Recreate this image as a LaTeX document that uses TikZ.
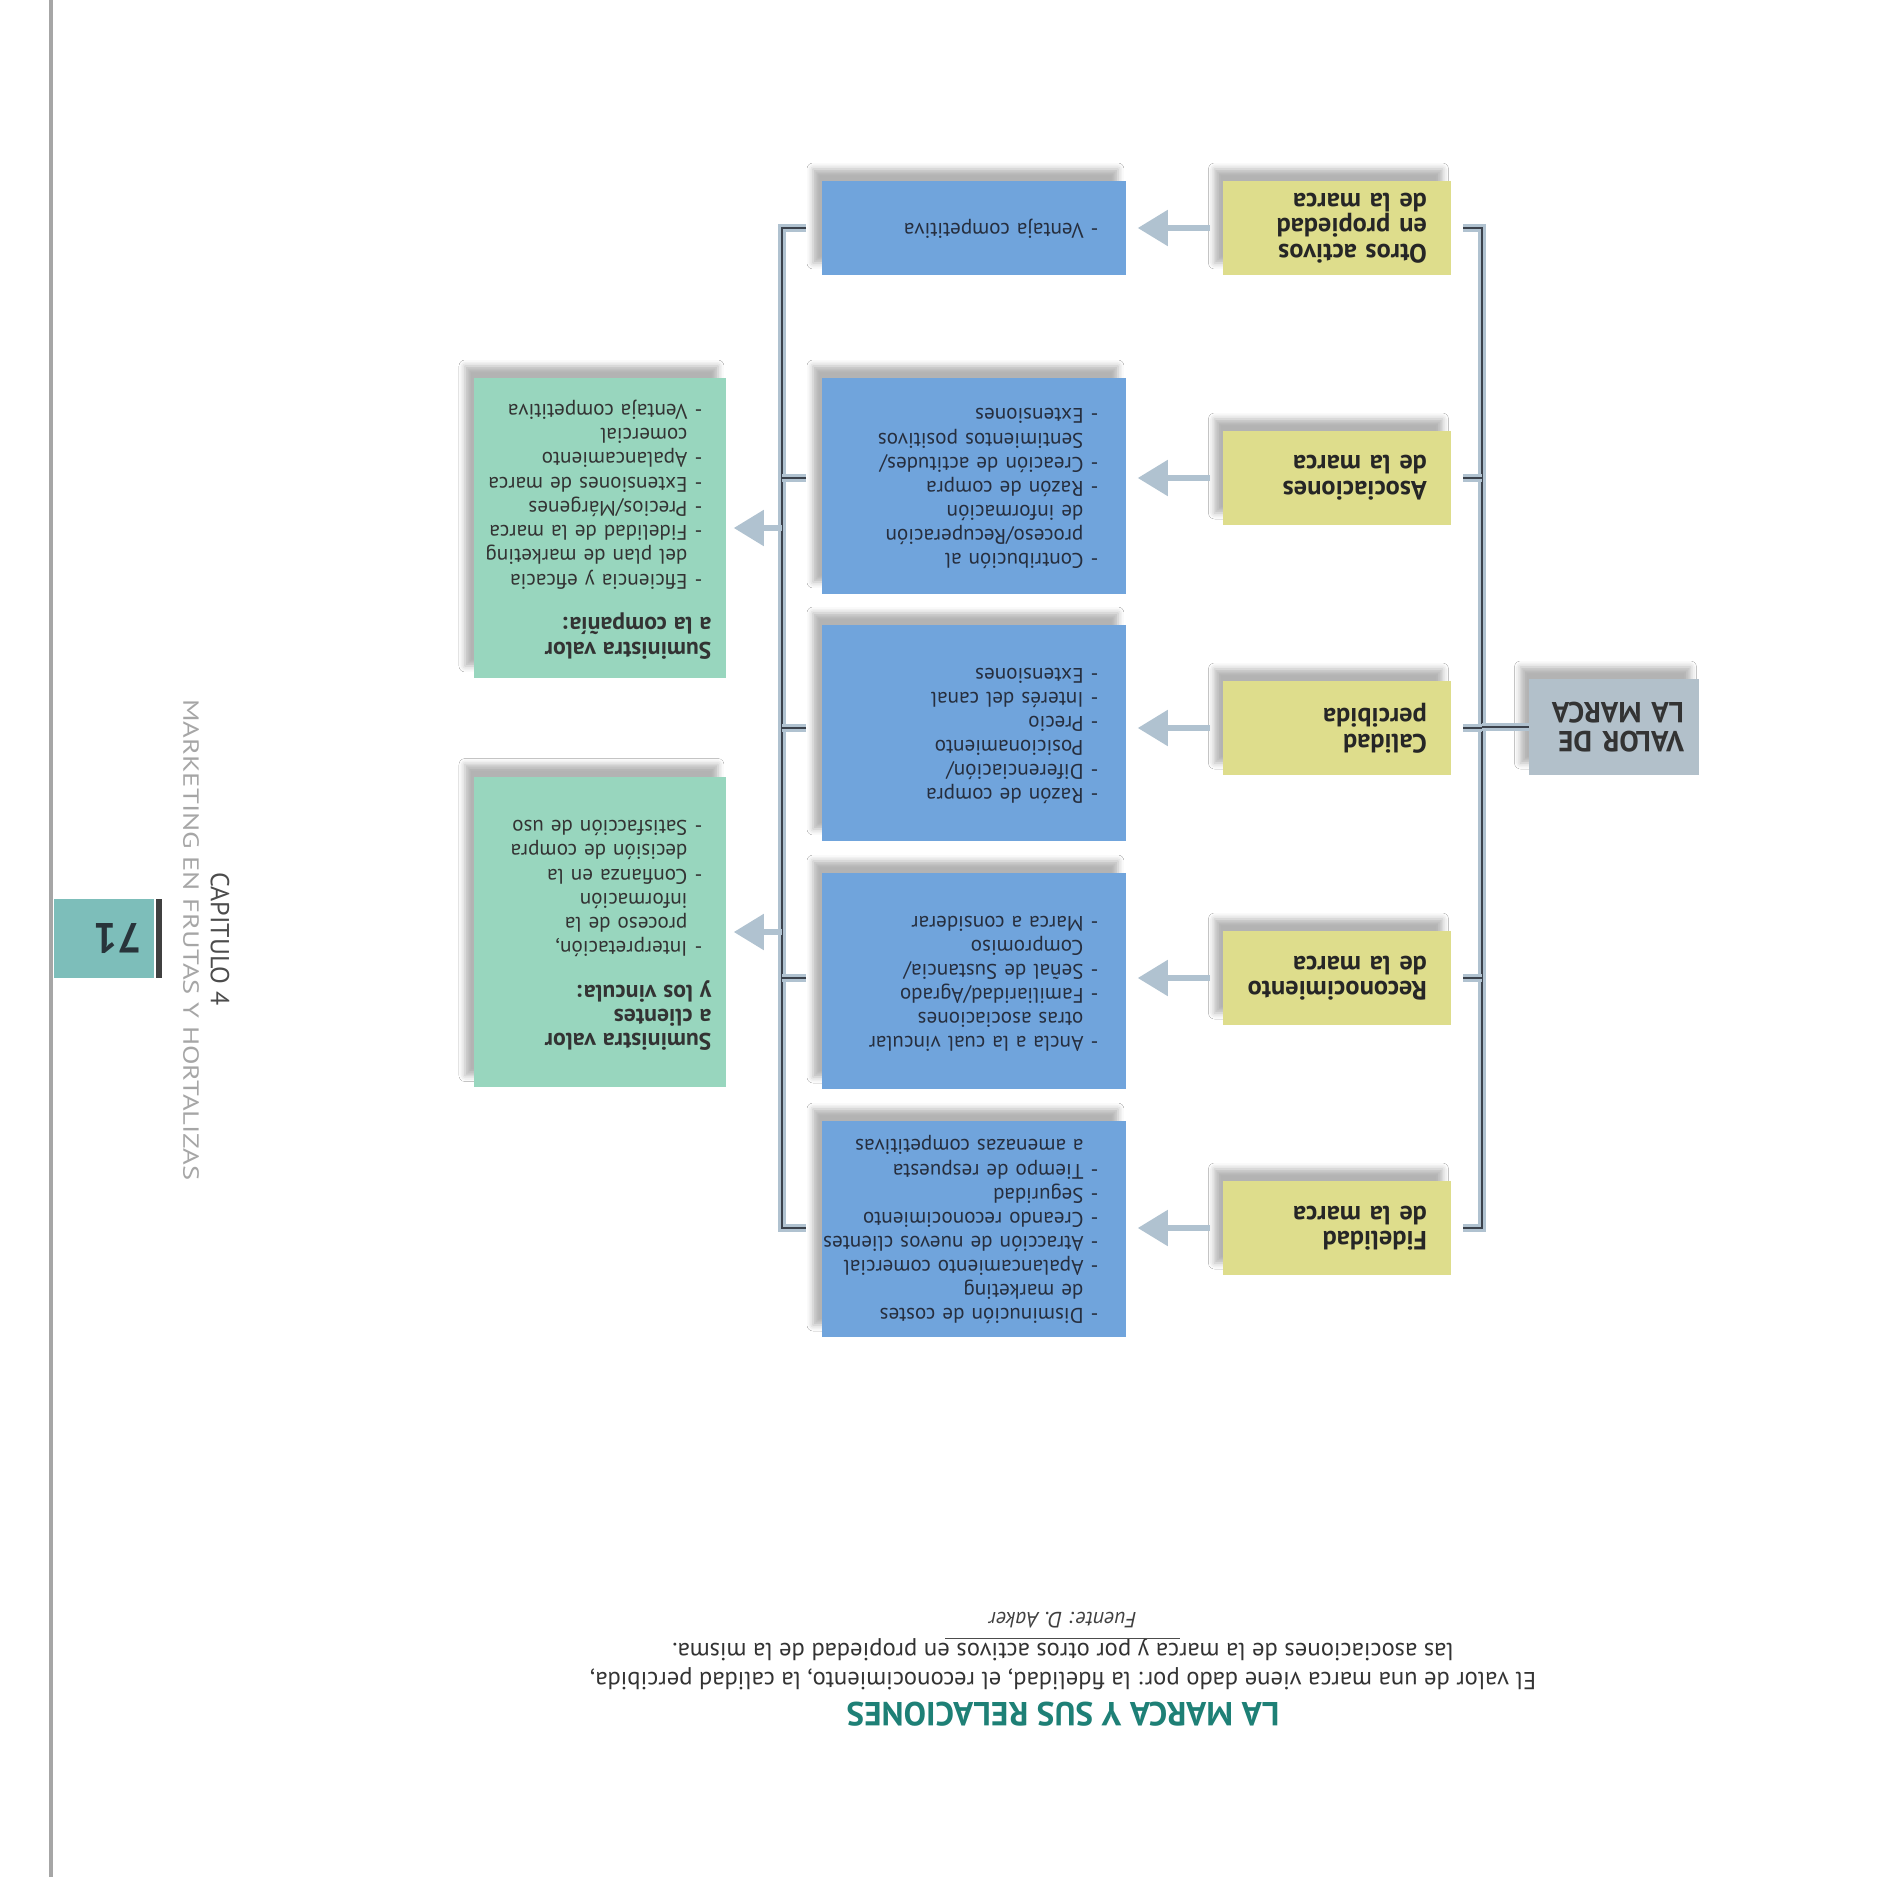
\documentclass[tikz,border=0pt]{standalone}
\usepackage{fontspec}
\setmainfont{PT Sans}
\newfontfamily\anchafont{PT Sans}[FakeStretch=1.3]
\usetikzlibrary{positioning, arrows.meta, shadows, shadows.blur, calc}
\definecolor{valorgris}{RGB}{178,192,202}
\definecolor{amarillo}{RGB}{222,221,140}
\definecolor{azul}{RGB}{112,164,220}
\definecolor{verde}{RGB}{152,214,190}
\definecolor{titulo}{RGB}{30,128,118}
\definecolor{pestana}{RGB}{125,190,186}
\definecolor{enlaceclaro}{RGB}{176,194,208}
\definecolor{enlaceoscuro}{RGB}{60,66,76}
\definecolor{textoazul}{RGB}{38,46,62}
\definecolor{numero}{RGB}{40,52,58}
\newenvironment{guiones}{\begin{tabular}{@{}l@{\hspace{0.35em}}l@{}}}{\end{tabular}}
\tikzset{
    sombra/.style={blur shadow={shadow xshift=-0.17cm, shadow yshift=0.24cm, shadow blur radius=0.12cm, shadow opacity=30}},
    valorbox/.style={rectangle, fill=valorgris, text=black!80, align=left, text width=2.8cm, inner xsep=0.3cm, inner ysep=0pt, minimum height=1.92cm, font=\fontsize{16.5}{16.8}\selectfont\bfseries, sombra},
    factor/.style={rectangle, fill=amarillo, text=black!85, align=left, text width=3.6cm, inner xsep=0.48cm, inner ysep=0pt, minimum height=1.88cm, font=\fontsize{15}{14.6}\selectfont\bfseries, sombra},
    detalle/.style={rectangle, fill=azul, text=textoazul, align=left, text width=4.98cm, inner xsep=0.56cm, inner ysep=0pt, minimum height=#1, font=\fontsize{12}{13.7}\selectfont, sombra},
    detalle/.default=4.32cm,
    beneficio/.style={rectangle, fill=verde, text=black!80, align=left, text width=4.46cm, inner xsep=0.3cm, inner ysep=0pt, minimum height=#1, font=\fontsize{12}{13.8}\selectfont, sombra},
    beneficio/.default=6cm,
    enlace/.style={draw=enlaceoscuro, line width=0.7pt, preaction={draw=enlaceclaro, line width=4pt}},
    flecha/.style={-{Triangle[length=0.6cm, width=0.7cm]}, draw=enlaceclaro, line width=3pt}
}
\newcommand{\cab}{\bfseries\fontsize{13.5}{13.8}\selectfont}
\begin{document}
\begin{tikzpicture}[x=0.02cm, y=0.02cm]
\begin{scope}[rotate=180, transform shape]
    \path[use as bounding box, fill=white] (0,0) rectangle (1890,1892);

    \node[valorbox] (valor) at (276,727) {VALOR DE\\LA MARCA};

    \node[factor] (otros) at (553,228) {Otros activos\\en propiedad\\de la marca};
    \node[factor] (asoc) at (553,478) {Asociaciones\\de la marca};
    \node[factor] (calidad) at (553,728) {Calidad\\percibida};
    \node[factor] (recon) at (553,978) {Reconocimiento\\de la marca};
    \node[factor] (fidel) at (553,1228) {Fidelidad\\de la marca};

    \node[detalle=1.88cm] (ventaja) at (916,228) {\begin{guiones}
        - & Ventaja competitiva
    \end{guiones}};
    \node[detalle] (asocdet) at (916,486) {\begin{guiones}
        - & Contribución al\\
          & proceso/Recuperación\\
          & de información\\
        - & Razón de compra\\
        - & Creación de actitudes/\\
          & Sentimientos positivos\\
        - & Extensiones
    \end{guiones}};
    \node[detalle] (calidet) at (916,733) {\begin{guiones}
        - & Razón de compra\\
        - & Diferenciación/\\
          & Posicionamiento\\
        - & Precio\\
        - & Interés del canal\\
        - & Extensiones
    \end{guiones}};
    \node[detalle] (recondet) at (916,981) {\begin{guiones}
        - & Ancla a la cual vincular\\
          & otras asociaciones\\
        - & Familiaridad/Agrado\\
        - & Señal de Sustancia/\\
          & Compromiso\\
        - & Marca a considerar
    \end{guiones}};
    \node[detalle] (fideldet) at (916,1229) {\begin{guiones}
        - & Disminución de costes\\
          & de marketing\\
        - & Apalancamiento comercial\\
        - & Atracción de nuevos clientes\\
        - & Creando reconocimiento\\
        - & Seguridad\\
        - & Tiempo de respuesta\\
          & a amenazas competitivas
    \end{guiones}};

    \node[beneficio=6cm] (compania) at (1290,528) {%
        \begin{tabular}{@{\hspace{0.18cm}}l@{\hspace{0.35em}}l@{}}
        \multicolumn{2}{@{}l}{\cab Suministra valor}\\
        \multicolumn{2}{@{}l}{\cab a la compañía:}\\[11pt]
        - & Eficiencia y eficacia\\
          & del plan de marketing\\
        - & Fidelidad de la marca\\
        - & Precios/Márgenes\\
        - & Extensiones de marca\\
        - & Apalancamiento\\
          & comercial\\
        - & Ventaja competitiva
        \end{tabular}};
    \node[beneficio=6.22cm] (clientes) at (1290,932) {%
        \begin{tabular}{@{\hspace{0.18cm}}l@{\hspace{0.35em}}l@{}}
        \multicolumn{2}{@{}l}{\cab Suministra valor}\\
        \multicolumn{2}{@{}l}{\cab a clientes}\\
        \multicolumn{2}{@{}l}{\cab y los vincula:}\\[11pt]
        - & Interpretación,\\
          & proceso de la\\
          & información\\
        - & Confianza en la\\
          & decisión de compra\\
        - & Satisfacción de uso
        \end{tabular}};

    \coordinate (eje1) at (408,728);
    \coordinate (eje2) at (1108,728);

    % llaves
    \draw[enlace] ($(otros.west)+(-12,0)$) -| (eje1) |- ($(fidel.west)+(-12,0)$);
    \foreach \n in {asoc, calidad, recon}
        \draw[enlace] ($(\n.west)+(-12,0)$) -- (\n.west -| eje1);
    \draw[enlace] (valor.east) -- (valor.east -| eje1);

    \draw[enlace] ($(ventaja.east |- otros.east)+(15,0)$) -| (eje2) |- ($(fideldet.east |- fidel.east)+(15,0)$);
    \foreach \a/\b in {asoc/asocdet, calidad/calidet, recon/recondet}
        \draw[enlace] ($(\b.east |- \a.east)+(15,0)$) -- (\a.east -| eje2);

    \foreach \a/\b in {otros/ventaja, asoc/asocdet, calidad/calidet, recon/recondet, fidel/fideldet}
        \draw[flecha] ($(\a.east)+(13,0)$) -- ($(\b.west |- \a.east)+(-11,0)$);
    \draw[flecha] (compania.west -| eje2) -- ($(compania.west)+(-7,0)$);
    \draw[flecha] (clientes.west -| eje2) -- ($(clientes.west)+(-7,0)$);

    % pie
    \node[font=\fontsize{19}{20}\selectfont\bfseries, text=titulo] (tit) at (827,1714) {LA MARCA Y SUS RELACIONES};
    \node[font=\fontsize{14}{16.2}\selectfont, text=black!80, align=center] (texto) at (827,1664) {El valor de una marca viene dado por: la fidelidad, el reconocimiento, la calidad percibida,\\las asociaciones de la marca y por otros activos en propiedad de la misma.};
    \draw[black!70, line width=0.5pt] (710,1638) -- (945,1638);
    \node[font=\fontsize{12.5}{14}\selectfont\itshape, text=black!75] (fuente) at (827,1620) {Fuente: D. Aaker};

    % margen
    \draw[line width=1.8pt, black!35] (1839,0) -- (1839,1877);
    \fill[pestana] (1736,899) rectangle (1836,978);
    \fill[black!75] (1728,899) rectangle (1734,978);
    \node[font=\fontsize{24}{24}\selectfont\bfseries, text=numero] (pagina) at (1772,939) {71};
    \node[rotate=90, font=\fontsize{14.8}{14.8}\selectfont, text=black!70] (capitulo) at (1670,939) {CAPITULO 4};
    \node[rotate=90, font=\anchafont\fontsize{12.5}{12.5}\selectfont, text=black!35] (libro) at (1699,940) {MARKETING EN FRUTAS Y HORTALIZAS};
\end{scope}
\end{tikzpicture}
\end{document}
